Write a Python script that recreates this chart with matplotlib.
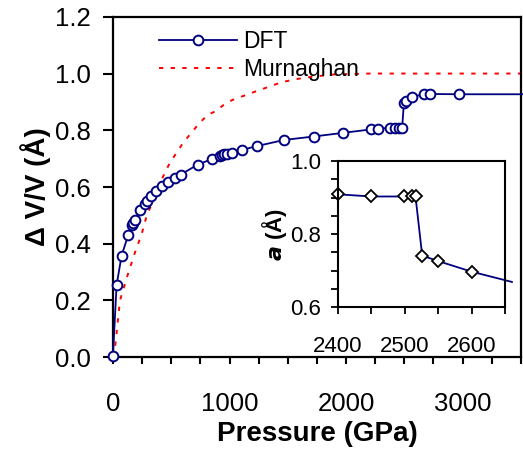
import numpy as np
import matplotlib
matplotlib.use("Agg")
import matplotlib.pyplot as plt
from matplotlib.ticker import MultipleLocator, FixedLocator

plt.rcParams['font.family'] = ['Liberation Sans', 'DejaVu Sans']

# DFT curve (pressure GPa, delta V/V)
dft_p = [0, 31, 74, 131, 159, 173, 187, 236, 273, 292, 330, 372, 418, 471, 535, 582,
         727, 852, 915, 935, 955, 980, 1025, 1108, 1232, 1470, 1721, 1976, 2212, 2274,
         2374, 2416, 2455, 2481, 2496, 2515, 2564, 2672, 2723, 2970, 3600]
dft_v = [0.005, 0.254, 0.358, 0.431, 0.466, 0.474, 0.484, 0.519, 0.539, 0.552, 0.568,
         0.587, 0.605, 0.619, 0.632, 0.644, 0.679, 0.699, 0.708, 0.712, 0.715, 0.717,
         0.719, 0.731, 0.744, 0.766, 0.778, 0.791, 0.803, 0.805, 0.809, 0.809, 0.809,
         0.809, 0.895, 0.904, 0.917, 0.928, 0.928, 0.927, 0.927]

# Murnaghan fit
mur_p = [0, 20, 60, 130, 196, 244, 287, 358, 429, 486, 543, 599, 670, 741, 812, 883,
         954, 1025, 1224, 1451, 1621, 1735, 1900, 2200, 3500]
mur_v = [0.0, 0.042, 0.20, 0.295, 0.378, 0.431, 0.495, 0.566, 0.636, 0.684, 0.719,
         0.754, 0.790, 0.825, 0.854, 0.868, 0.891, 0.907, 0.937, 0.970, 0.984, 0.990,
         0.997, 1.0, 1.0]

# inset: lattice parameter a
ins_p = [2400, 2450, 2499, 2511, 2516, 2526, 2550, 2600, 2660]
ins_a = [0.909, 0.903, 0.903, 0.903, 0.903, 0.741, 0.726, 0.697, 0.669]

navy = '#000080'

fig = plt.figure(figsize=(5.23, 4.55), dpi=100)
ax = fig.add_axes([0.216, 0.215, 0.780, 0.748])

ax.plot(dft_p, dft_v, '-o', color=navy, lw=1.3, ms=7, mfc='white', mec=navy, mew=1.4,
        markevery=list(range(len(dft_p) - 1)), label='DFT', clip_on=False, zorder=3)
ax.plot(mur_p, mur_v, color='red', lw=1.4, ls=(0, (2.2, 3.8)), label='Murnaghan', zorder=2)

ax.set_xlim(0, 3500)
ax.set_ylim(0, 1.2)
ax.xaxis.set_major_locator(MultipleLocator(1000))
ax.xaxis.set_minor_locator(MultipleLocator(250))
ax.yaxis.set_major_locator(MultipleLocator(0.2))
ax.yaxis.set_major_formatter(plt.FuncFormatter(lambda v, _: f'{v:.1f}'))
ax.tick_params(axis='x', which='both', direction='out', length=5, width=1.5,
               labelsize=18.5, pad=20)
ax.tick_params(axis='y', which='both', direction='out', length=7, width=1.5,
               labelsize=18.5, pad=9)
for s in ax.spines.values():
    s.set_linewidth(1.6)

ax.set_xlabel('Pressure (GPa)', fontsize=20, fontweight='bold', labelpad=4)
ax.set_ylabel('Δ V/V (Å)', fontsize=20, fontweight='bold', labelpad=3)

leg = ax.legend(loc='upper left', bbox_to_anchor=(0.113, 0.96), frameon=False,
                fontsize=16.5, handlelength=3.4, handletextpad=0.25, labelspacing=0.2,
                borderpad=0, borderaxespad=0)

# inset
ins = fig.add_axes([0.646, 0.325, 0.320, 0.321])
ins.plot(ins_p, ins_a, '-D', color=navy, lw=1.3, ms=6.5, mfc='white', mec='black', mew=1.3,
         markevery=list(range(len(ins_p) - 1)), clip_on=False)
ins.set_xlim(2400, 2650)
ins.set_ylim(0.6, 1.0)
ins.xaxis.set_major_locator(MultipleLocator(100))
ins.xaxis.set_minor_locator(MultipleLocator(50))
ins.yaxis.set_major_locator(MultipleLocator(0.2))
ins.yaxis.set_minor_locator(MultipleLocator(0.05))
ins.yaxis.set_major_formatter(plt.FuncFormatter(lambda v, _: f'{v:.1f}'))
ins.tick_params(axis='x', which='both', direction='out', length=5, width=1.3,
                labelsize=16, pad=16)
ins.tick_params(axis='y', which='both', direction='out', length=5, width=1.3,
                labelsize=16, pad=7)
for s in ins.spines.values():
    s.set_linewidth(1.5)
ins.set_ylabel(r'$\boldsymbol{a}$ (Å)', fontsize=16, fontweight='bold', labelpad=1)

fig.savefig('out.png', dpi=100)
